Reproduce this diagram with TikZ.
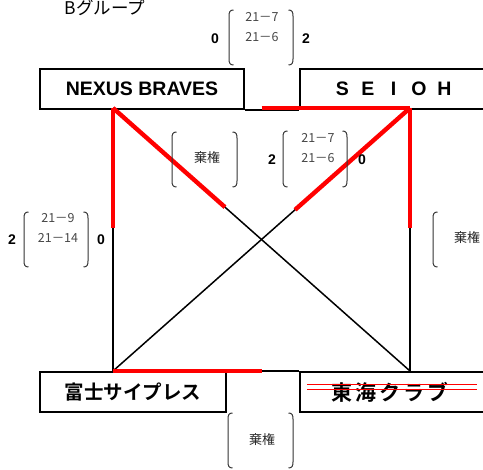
\documentclass[tikz,border=0pt]{standalone}
\usepackage{fontspec}
\setmainfont{Liberation Sans}
\newfontfamily\jp{Noto Sans CJK JP}[BoldFont={Noto Sans CJK JP Bold}]
\usetikzlibrary{calc}
\newcommand\mylb[3]{\draw[brk] (#1+4.5,#2) .. controls (#1+1,#2) and (#1,#2+2) .. (#1,#2+6) -- (#1,#3-6) .. controls (#1,#3-2) and (#1+1,#3) .. (#1+4.5,#3);}
\newcommand\myrb[3]{\draw[brk] (#1-4.5,#2) .. controls (#1-1,#2) and (#1,#2+2) .. (#1,#2+6) -- (#1,#3-6) .. controls (#1,#3-2) and (#1-1,#3) .. (#1-4.5,#3);}
\begin{document}
\begin{tikzpicture}[x=1pt,y=-1pt,
  team/.style={draw,line width=2pt,inner sep=0pt,minimum height=40pt,anchor=north west,font=\bfseries\fontsize{19.5}{20}\selectfont},
  jteam/.style={team,font=\jp\bfseries\fontsize{19.5}{20}\selectfont},
  link/.style={line width=1.5pt},
  win/.style={line width=4.4pt,red},
  score/.style={font=\jp\fontsize{12.5}{13}\selectfont,text=black!72,inner sep=0pt},
  pts/.style={font=\bfseries\fontsize{14}{14}\selectfont,inner sep=0pt},
  kiken/.style={font=\jp\fontsize{13}{13}\selectfont,text=black!85,inner sep=0pt},
  brk/.style={line width=1pt,black!80}]
\useasboundingbox (0,0) rectangle (483,470);
% title
\node[font=\jp\fontsize{17.5}{18}\selectfont,inner sep=0pt,anchor=south] (title) at (105,16) {Bグループ};
% team boxes
\node[team,minimum width=204pt] (A) at (39,68) {NEXUS BRAVES};
\node[team,minimum width=187pt] (B) at (299,68) {\makebox[25.5pt]{S}\makebox[25.5pt]{E}\makebox[25.5pt]{I}\makebox[25.5pt]{O}\makebox[25.5pt]{H}};
\node[jteam,minimum width=186pt] (C) at (39,371) {富士サイプレス};
\node[jteam,minimum width=187pt,font=\jp\bfseries\fontsize{21}{22}\selectfont] (D) at (299,371) {\hspace{-7pt}\makebox[24pt]{東}\makebox[24pt]{海}\makebox[24pt]{ク}\makebox[24pt]{ラ}\makebox[24pt]{ブ}};
% corners
\coordinate (nA) at (113,108);
\coordinate (nB) at (410,108);
\coordinate (nC) at (113,371);
\coordinate (nD) at (410,371);
% black connectors
\draw[link] (A.south east) -- (B.south west);
\draw[link] (C.north east) -- (D.north west);
\draw[link] (nA) -- (nC);
\draw[link] (nB) -- (nD);
\draw[link] (nA) -- (nD);
\draw[link] (nB) -- (nC);
% winners in red
\draw[win] ($(nA)!0.5!(nB)$) -- (nB);
\draw[win] (nC) -- ($(nC)!0.5!(nD)$);
\draw[win] (nA) -- ($(nA)!0.456!(nC)$);
\draw[win] (nB) -- ($(nB)!0.456!(nD)$);
\draw[win] (nA) -- ($(nA)!0.377!(nD)$);
\draw[win] (nB) -- ($(nB)!0.387!(nC)$);
% strike-through
\draw[red,line width=0.9pt] (307,384) -- (477,384);
\draw[red,line width=0.9pt] (307,389.5) -- (477,389.5);
% top score
\mylb{229}{10}{65}\myrb{293}{10}{65}
\node[pts] (t0) at (215,39) {0};
\node[score] (t1) at (262,17) {21－7};
\node[score] (t2) at (262,37) {21－6};
\node[pts] (t3) at (306,39) {2};
% middle left
\mylb{172}{132}{187}\myrb{237}{132}{187}
\node[kiken] (k1) at (207,158) {棄権};
% middle right
\mylb{283}{131}{187}\myrb{347}{131}{187}
\node[pts] (m0) at (272,160) {2};
\node[score] (m1) at (318,138) {21－7};
\node[score] (m2) at (318,158) {21－6};
\node[pts] (m3) at (362,160) {0};
% left
\mylb{24}{212}{267}\myrb{88}{212}{267}
\node[pts] (l0) at (12,240) {2};
\node[score] (l1) at (58,218) {21－9};
\node[score] (l2) at (58,238) {21－14};
\node[pts] (l3) at (101,240) {0};
% right
\mylb{433}{212}{267}
\node[kiken] (k2) at (467,238) {棄権};
% bottom
\mylb{228}{413}{468}\myrb{293}{413}{468}
\node[kiken] (k3) at (262,440) {棄権};
\end{tikzpicture}
\end{document}
